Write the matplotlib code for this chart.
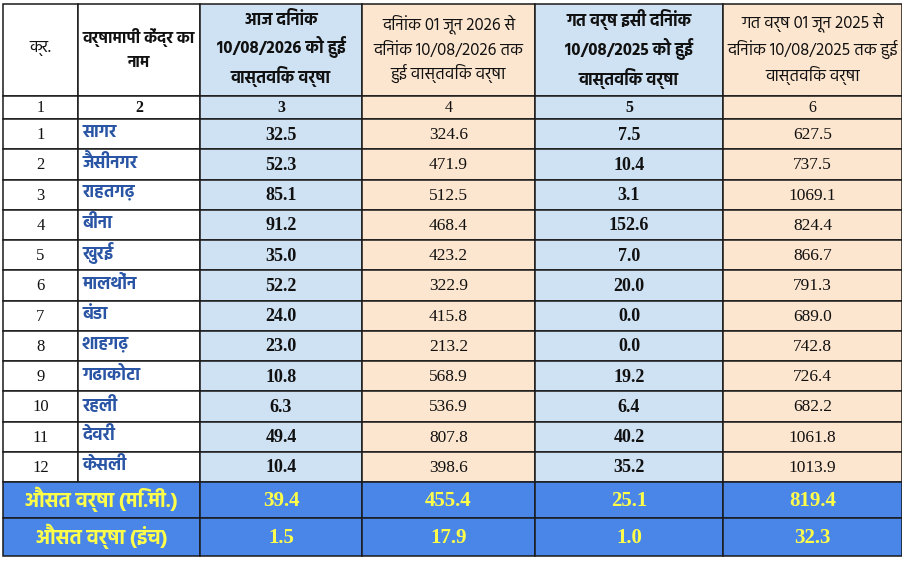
import matplotlib
matplotlib.use("Agg")
import matplotlib.pyplot as plt
from matplotlib.patches import Rectangle
from matplotlib import font_manager

# --- data ---
headers = ["क्र.",
           "वर्षामापी केंद्र का\nनाम",
           "आज दिनांक\n10/08/2026 को हुई\nवास्तविक वर्षा",
           "दिनांक 01 जून 2026 से\nदिनांक 10/08/2026 तक\nहुई वास्तविक वर्षा",
           "गत वर्ष इसी दिनांक\n10/08/2025 को हुई\nवास्तविक वर्षा",
           "गत वर्ष 01 जून 2025 से\nदिनांक 10/08/2025 तक हुई\nवास्तविक वर्षा"]
col_numbers = ["1", "2", "3", "4", "5", "6"]
stations = ["सागर", "जैसीनगर", "राहतगढ़", "बीना", "खुरई", "मालथोंन",
            "बंडा", "शाहगढ़", "गढाकोटा", "रहली", "देवरी", "केसली"]
today_2026 = [32.5, 52.3, 85.1, 91.2, 35.0, 52.2, 24.0, 23.0, 10.8, 6.3, 49.4, 10.4]
season_2026 = [324.6, 471.9, 512.5, 468.4, 423.2, 322.9, 415.8, 213.2, 568.9, 536.9, 807.8, 398.6]
today_2025 = [7.5, 10.4, 3.1, 152.6, 7.0, 20.0, 0.0, 0.0, 19.2, 6.4, 40.2, 35.2]
season_2025 = [627.5, 737.5, 1069.1, 824.4, 866.7, 791.3, 689.0, 742.8, 726.4, 682.2, 1061.8, 1013.9]
avg_labels = ["औसत वर्षा (मि.मी.)", "औसत वर्षा (इंच)"]
avg_mm = [39.4, 455.4, 25.1, 819.4]
avg_inch = [1.5, 17.9, 1.0, 32.3]

# pick a proportional Devanagari font that has real regular and bold files
weights = {}
for f in font_manager.fontManager.ttflist:
    weights.setdefault(f.name, set()).add(f.weight)
prefs = ["Noto Sans Devanagari", "Hind", "Mukta", "Ek Mukta", "FreeSans", "Annapurna SIL"]
deva = next((n for n in prefs if n in weights and 700 in weights[n] and 400 in weights[n]), None)
if deva is None:
    deva = next((n for n in prefs if n in weights), None)
hindi = ([deva] if deva else []) + ["Noto Sans", "DejaVu Sans"]
serif = ["Liberation Serif", "DejaVu Serif"]

# --- layout (pixels) ---
W, H = 902, 564
col_x = [3, 78, 200, 362, 535, 723, 902]
header_y = (4, 96)
index_y = (96, 119)
body_top, body_bot = 119, 482
avg_rows = [(482, 518), (518, 556)]

white = "#ffffff"
blue_lt = "#cfe2f3"
peach = "#fde6cf"
blue_avg = "#4a86e8"
yellow = "#ffff4a"
name_blue = "#2a55a5"
col_fill = [white, white, blue_lt, peach, blue_lt, peach]
bold_cols = [False, True, True, False, True, False]
header_size = [12, 11.5, 12, 12, 12, 12]
header_spacing = [1.45, 1.75, 1.45, 1.45, 1.45, 1.45]

fig = plt.figure(figsize=(W / 100, H / 100), dpi=100)
ax = fig.add_axes([0, 0, 1, 1])
ax.set_xlim(0, W)
ax.set_ylim(H, 0)
ax.axis("off")


def cell(x0, x1, y0, y1, fill):
    ax.add_patch(Rectangle((x0, y0), x1 - x0, y1 - y0, facecolor=fill,
                           edgecolor="#1a1a1a", linewidth=1.1))


# header
for c, txt in enumerate(headers):
    x0, x1 = col_x[c], col_x[c + 1]
    cell(x0, x1, *header_y, col_fill[c])
    ax.text((x0 + x1) / 2, sum(header_y) / 2 - 1, txt, ha="center", va="center",
            family=hindi, fontsize=header_size[c], linespacing=header_spacing[c],
            fontweight="bold" if bold_cols[c] else "normal", color="#111111")

# index row
for c, txt in enumerate(col_numbers):
    x0, x1 = col_x[c], col_x[c + 1]
    cell(x0, x1, *index_y, col_fill[c])
    ax.text((x0 + x1) / 2, sum(index_y) / 2 + 1, txt, ha="center", va="center",
            family=serif, fontsize=11.5,
            fontweight="bold" if bold_cols[c] else "normal", color="#111111")

# body
n = len(stations)
rh = (body_bot - body_top) / n
cols = [today_2026, season_2026, today_2025, season_2025]
for i in range(n):
    y0 = body_top + i * rh
    y1 = y0 + rh
    ym = (y0 + y1) / 2
    for c in range(6):
        cell(col_x[c], col_x[c + 1], y0, y1, col_fill[c])
    ax.text((col_x[0] + col_x[1]) / 2, ym + 1, str(i + 1), ha="center", va="center",
            family=serif, fontsize=12, color="#111111")
    ax.text(col_x[1] + 4, ym - 2, stations[i], ha="left", va="center",
            family=hindi, fontsize=12.5, fontweight="bold", color=name_blue)
    for k, vals in enumerate(cols):
        c = k + 2
        bold = bold_cols[c]
        ax.text((col_x[c] + col_x[c + 1]) / 2, ym + 1, f"{vals[i]:.1f}",
                ha="center", va="center", family=serif,
                fontsize=13 if bold else 12.5,
                fontweight="bold" if bold else "normal", color="#111111")

# averages
for (y0, y1), label, vals in zip(avg_rows, avg_labels, [avg_mm, avg_inch]):
    ym = (y0 + y1) / 2
    cell(col_x[0], col_x[2], y0, y1, blue_avg)
    ax.text((col_x[0] + col_x[2]) / 2, ym - 1, label, ha="center", va="center",
            family=hindi, fontsize=14.5, fontweight="bold", color=yellow)
    for k, v in enumerate(vals):
        c = k + 2
        cell(col_x[c], col_x[c + 1], y0, y1, blue_avg)
        ax.text((col_x[c] + col_x[c + 1]) / 2, ym + 1, f"{v:.1f}", ha="center",
                va="center", family=serif, fontsize=15, fontweight="bold", color=yellow)

fig.savefig("out.png", dpi=100, facecolor="white")
